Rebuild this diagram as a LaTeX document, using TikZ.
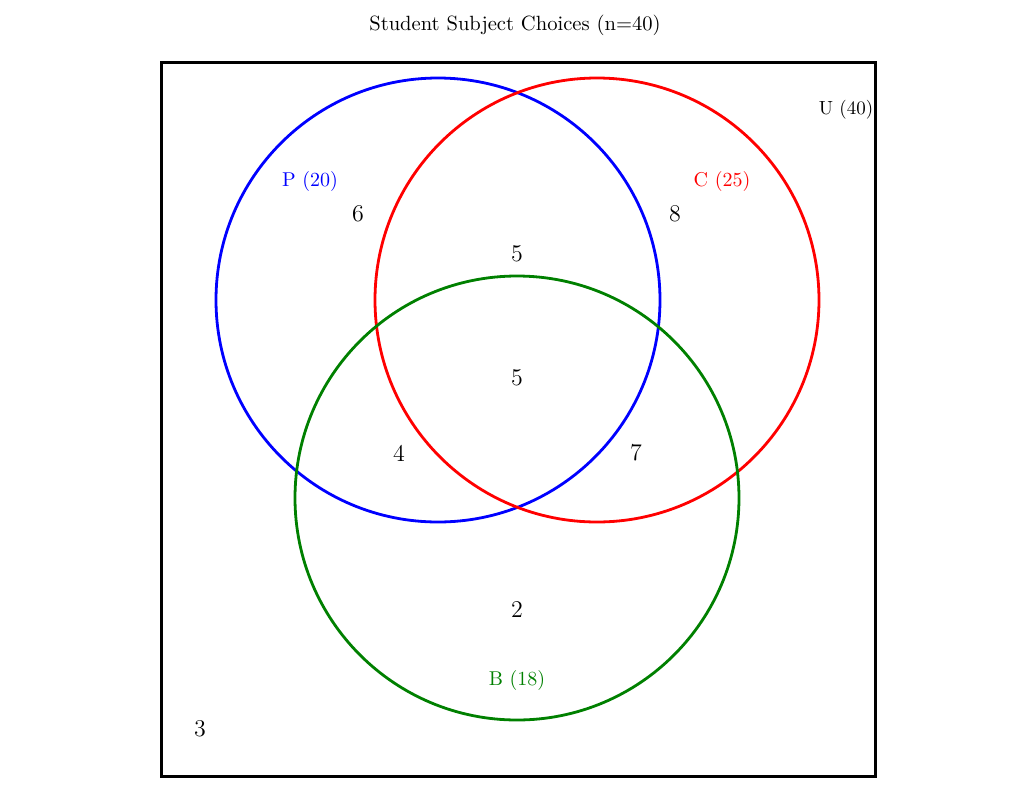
\documentclass[tikz,border=0pt]{standalone}
\begin{document}
\begin{tikzpicture}[x=0.5pt,y=-0.5pt,
  setc/.style={line width=1.4pt},
  lbl/.style={inner sep=0pt,font=\fontsize{10}{12}\selectfont},
  num/.style={inner sep=0pt,font=\fontsize{12}{14}\selectfont}]
\useasboundingbox (0,0) rectangle (1035,810);
\node[lbl,font=\fontsize{10.3}{12}\selectfont] (title) at (515,25) {Student Subject Choices (n=40)};
\draw[line width=1.5pt] (161,62) rectangle (875,776);
\node[lbl,font=\fontsize{9.5}{12}\selectfont] (U) at (846,110) {U (40)};
\draw[setc,blue] (438,300) circle[radius=222];
\draw[setc,red] (597,300) circle[radius=222];
\draw[setc,green!50!black] (517,498) circle[radius=222];
\node[lbl,text=blue] (P) at (310,181) {P (20)};
\node[lbl,text=red] (C) at (722,181) {C (25)};
\node[lbl,text=green!50!black] (B) at (517,680) {B (18)};
\node[num] (p) at (358,214) {6};
\node[num] (c) at (675,214) {8};
\node[num] (pc) at (517,254) {5};
\node[num] (pcb) at (517,378) {5};
\node[num] (pb) at (399,453) {4};
\node[num] (cb) at (636,453) {7};
\node[num] (b) at (517,610) {2};
\node[num] (none) at (200,729) {3};
\end{tikzpicture}
\end{document}
